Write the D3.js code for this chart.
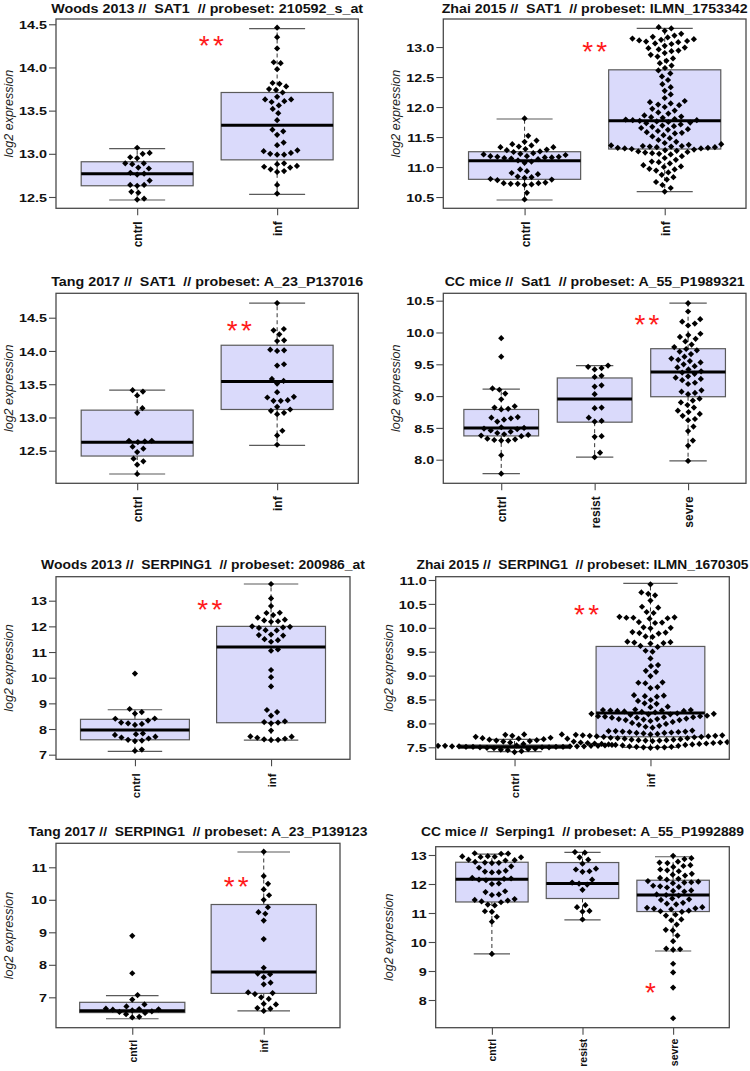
<!DOCTYPE html>
<html><head><meta charset="utf-8">
<script src="https://cdn.jsdelivr.net/npm/d3@7"></script>
<style>
body{margin:0;background:#fff;}
svg text{font-family:"Liberation Sans",Arial,sans-serif;white-space:pre;}
</style></head>
<body><svg id="c" width="750" height="1071"></svg>
<script>
// ---------------- DATA ----------------
const titles = [
  "Woods 2013 //  SAT1  // probeset: 210592_s_at",
  "Zhai 2015 //  SAT1  // probeset: ILMN_1753342",
  "Tang 2017 //  SAT1  // probeset: A_23_P137016",
  "CC mice //  Sat1  // probeset: A_55_P1989321",
  "Woods 2013 //  SERPING1  // probeset: 200986_at",
  "Zhai 2015 //  SERPING1  // probeset: ILMN_1670305",
  "Tang 2017 //  SERPING1  // probeset: A_23_P139123",
  "CC mice //  Serping1  // probeset: A_55_P1992889"
];
const groupsHuman = ["cntrl", "inf"];
const groupsMice = ["cntrl", "resist", "sevre"];
const yAxisLabel = "log2 expression";

// Panel 1: Woods 2013 SAT1
const woodsSat1Cntrl = [13.07,13.01,13.00,12.96,12.95,12.89,12.89,12.88,12.84,12.83,12.78,12.77,12.76,12.69,12.64,12.64,12.63,12.56,12.55,12.48,12.47];
const woodsSat1Inf = [14.46,14.35,14.22,14.06,14.05,13.98,13.82,13.81,13.78,13.75,13.74,13.71,13.66,13.63,13.63,13.61,13.60,13.56,13.52,13.47,13.39,13.28,13.26,13.22,13.13,13.10,13.04,13.03,13.01,13.00,12.99,12.99,12.89,12.88,12.86,12.85,12.84,12.82,12.80,12.79,12.64,12.54];
const woodsSat1Box = [[12.465,12.63,12.77,12.908,13.06],[12.53,12.93,13.33,13.71,14.45]];
const woodsSat1Domain = [12.369, 14.561];
const woodsSat1Ticks = [12.5,13.0,13.5,14.0,14.5];
const woodsSat1Star = {text:"**", x:1.53, y:14.33};

// Panel 2: Zhai 2015 SAT1
const zhaiSat1Cntrl = [11.81,11.52,11.44,11.42,11.38,11.36,11.34,11.33,11.33,11.30,11.29,11.28,11.26,11.25,11.23,11.22,11.21,11.20,11.18,11.18,11.17,11.17,11.16,11.16,11.15,11.14,11.13,11.11,11.09,11.07,10.96,10.93,10.90,10.88,10.84,10.83,10.82,10.80,10.79,10.78,10.74,10.73,10.73,10.72,10.72,10.71,10.70,10.57,10.46];
const zhaiSat1Inf = [13.33,13.31,13.27,13.22,13.19,13.17,13.16,13.14,13.13,13.12,13.11,13.10,13.09,13.08,13.06,13.05,13.02,12.99,12.98,12.96,12.94,12.93,12.90,12.87,12.84,12.81,12.77,12.73,12.69,12.65,12.61,12.56,12.51,12.45,12.38,12.33,12.27,12.21,12.15,12.10,12.08,12.06,12.04,12.03,12.00,11.97,11.94,11.91,11.89,11.86,11.84,11.83,11.82,11.80,11.79,11.78,11.78,11.77,11.76,11.75,11.74,11.73,11.71,11.69,11.68,11.67,11.65,11.63,11.62,11.60,11.58,11.57,11.56,11.53,11.51,11.48,11.45,11.42,11.40,11.38,11.37,11.36,11.35,11.35,11.34,11.34,11.33,11.33,11.32,11.32,11.31,11.31,11.30,11.29,11.28,11.27,11.26,11.25,11.24,11.23,11.22,11.21,11.18,11.15,11.12,11.09,11.08,11.06,11.03,11.01,11.00,10.97,10.96,10.94,10.91,10.87,10.83,10.79,10.75,10.70,10.65,10.59];
const zhaiSat1Box = [[10.45,10.795,11.105,11.255,11.80],[10.59,11.30,11.77,12.62,13.31]];
const zhaiSat1Domain = [10.312, 13.467];
const zhaiSat1Ticks = [10.5,11.0,11.5,12.0,12.5,13.0];
const zhaiSat1Star = {text:"**", x:1.50, y:13.03};

// Panel 3: Tang 2017 SAT1
const tangSat1Cntrl = [13.41,13.39,13.33,13.14,13.07,12.65,12.65,12.64,12.63,12.56,12.53,12.48,12.38,12.34,12.29,12.15];
const tangSat1Inf = [14.72,14.33,14.31,14.25,14.16,14.15,14.02,14.01,14.00,13.80,13.78,13.58,13.55,13.51,13.38,13.31,13.30,13.26,13.25,13.25,13.16,13.12,13.10,13.07,13.05,12.80,12.73,12.59];
const tangSat1Box = [[12.15,12.42,12.626,13.11,13.41],[12.58,13.12,13.54,14.086,14.72]];
const tangSat1Domain = [12.01, 14.867];
const tangSat1Ticks = [12.5,13.0,13.5,14.0,14.5];
const tangSat1Star = {text:"**", x:1.73, y:14.405};

// Panel 4: CC mice Sat1
const ccSat1Cntrl = [9.91,9.62,9.12,9.10,9.04,8.95,8.84,8.82,8.80,8.79,8.67,8.66,8.65,8.63,8.60,8.51,8.50,8.49,8.48,8.46,8.44,8.42,8.40,8.39,8.38,8.37,8.33,8.32,8.31,8.30,8.30,8.07,7.78];
const ccSat1Resist = [9.48,9.46,9.44,9.42,9.32,9.30,9.17,9.15,9.03,8.82,8.81,8.66,8.61,8.60,8.37,8.36,8.11,8.04];
const ccSat1Sevre = [10.46,10.33,10.21,10.17,10.14,10.11,9.98,9.96,9.93,9.90,9.86,9.81,9.77,9.74,9.72,9.70,9.66,9.62,9.59,9.57,9.55,9.53,9.50,9.47,9.45,9.42,9.39,9.37,9.35,9.31,9.29,9.27,9.25,9.21,9.19,9.09,9.07,9.05,9.03,8.96,8.93,8.90,8.86,8.82,8.77,8.75,8.72,8.69,8.64,8.62,8.52,8.45,8.30,8.22,7.98];
const ccSat1Box = [[7.78,8.374,8.50,8.79,9.11],[8.04,8.59,8.953,9.285,9.478],[7.98,8.99,9.379,9.745,10.46]];
const ccSat1Domain = [7.629, 10.616];
const ccSat1Ticks = [8.0,8.5,9.0,9.5,10.0,10.5];
const ccSat1Star = {text:"**", x:2.56, y:10.226};

// Panel 5: Woods 2013 SERPING1
const woodsSerCntrl = [10.16,8.78,8.66,8.60,8.41,8.40,8.33,8.25,8.22,8.20,8.16,7.83,7.80,7.77,7.70,7.67,7.63,7.58,7.55,7.53,7.20,7.15];
const woodsSerInf = [13.65,13.09,12.79,12.53,12.52,12.44,12.34,12.26,12.23,12.20,12.18,12.00,11.98,11.96,11.94,11.85,11.84,11.68,11.66,11.64,11.50,11.46,11.40,11.10,11.05,10.30,10.02,9.66,8.74,8.66,8.52,8.30,8.27,8.25,8.22,7.94,7.71,7.70,7.66,7.62,7.60,7.58,7.57];
const woodsSerBox = [[7.13,7.58,7.96,8.378,8.75],[7.57,8.245,11.20,12.00,13.65]];
const woodsSerDomain = [6.82, 13.935];
const woodsSerTicks = [7,8,9,10,11,12,13];
const woodsSerStar = {text:"**", x:1.55, y:12.92};

// Panel 6: Zhai 2015 SERPING1
const zhaiSerCntrl = [7.40,7.42,7.44,7.45,7.46,7.47,7.48,7.49,7.50,7.50,7.50,7.51,7.51,7.51,7.51,7.52,7.52,7.52,7.52,7.52,7.53,7.53,7.53,7.53,7.54,7.54,7.54,7.55,7.55,7.56,7.57,7.60,7.62,7.63,7.64,7.65,7.66,7.67,7.68,7.69,7.70,7.72,7.74,7.76,7.77];
const zhaiSerInf = [10.91,10.74,10.71,10.68,10.57,10.44,10.42,10.33,10.31,10.23,10.22,10.21,10.21,10.20,10.19,10.12,10.11,10.10,10.01,10.00,9.99,9.91,9.90,9.89,9.88,9.82,9.81,9.71,9.70,9.69,9.68,9.67,9.62,9.60,9.52,9.50,9.36,9.22,9.20,9.10,9.08,8.99,8.86,8.85,8.84,8.76,8.74,8.59,8.58,8.57,8.56,8.49,8.47,8.42,8.41,8.35,8.34,8.29,8.28,8.28,8.27,8.27,8.26,8.26,8.25,8.24,8.23,8.21,8.20,8.20,8.19,8.19,8.18,8.16,8.15,8.15,8.14,8.13,8.13,8.12,8.12,8.10,8.09,8.09,8.08,8.07,8.07,8.05,8.03,8.01,7.99,7.97,7.95,7.93,7.91,7.85,7.84,7.84,7.83,7.83,7.82,7.82,7.81,7.80,7.80,7.79,7.78,7.77,7.77,7.76,7.76,7.75,7.75,7.74,7.74,7.73,7.73,7.72,7.72,7.71,7.70,7.69,7.69,7.68,7.68,7.67,7.67,7.66,7.66,7.65,7.65,7.64,7.64,7.63,7.62,7.61,7.60,7.60,7.59,7.59,7.58,7.58,7.57,7.57,7.56,7.56,7.55,7.55,7.54,7.53,7.52,7.51,7.51,7.50,7.50,7.50,7.49];
const zhaiSerBox = [[7.41,7.48,7.51,7.548,7.667],[7.50,7.72,8.215,9.61,10.93]];
const zhaiSerDomain = [7.249, 11.069];
const zhaiSerTicks = [7.5,8.0,8.5,9.0,9.5,10.0,10.5,11.0];
const zhaiSerStar = {text:"**", x:1.53, y:10.416};

// Panel 7: Tang 2017 SERPING1
const tangSerCntrl = [8.89,7.74,7.07,6.93,6.78,6.72,6.65,6.64,6.63,6.62,6.60,6.57,6.55,6.52,6.48,6.40,6.38];
const tangSerInf = [11.48,10.73,10.49,10.32,10.14,10.00,9.77,9.62,9.57,9.36,8.79,7.91,7.73,7.71,7.62,7.45,7.40,7.15,7.13,7.10,7.00,6.95,6.80,6.78,6.67,6.65,6.58];
const tangSerBox = [[6.34,6.53,6.59,6.846,7.05],[6.58,7.12,7.78,9.855,11.47]];
const tangSerDomain = [6.065, 11.738];
const tangSerTicks = [7,8,9,10,11];
const tangSerStar = {text:"**", x:1.79, y:10.61};

// Panel 8: CC mice Serping1
const ccSerCntrl = [13.06,13.05,13.04,12.96,12.95,12.94,12.93,12.92,12.84,12.82,12.81,12.76,12.74,12.73,12.72,12.61,12.56,12.46,12.43,12.41,12.40,12.21,12.19,12.18,12.15,12.13,12.02,12.00,11.75,11.72,11.64,11.62,11.48,11.45,11.43,11.40,11.37,11.29,11.26,11.06,11.04,10.87,10.70,9.59];
const ccSerResist = [13.10,13.08,12.92,12.84,12.70,12.53,12.50,12.44,12.42,12.15,12.05,12.01,11.98,11.80,11.27,11.20,11.07,11.05,10.78];
const ccSerSevre = [12.97,12.89,12.86,12.77,12.74,12.72,12.65,12.62,12.59,12.50,12.47,12.44,12.35,12.32,12.29,12.21,12.18,12.15,12.10,12.08,12.06,12.05,12.03,11.94,11.92,11.90,11.88,11.78,11.76,11.74,11.64,11.62,11.60,11.50,11.47,11.45,11.35,11.32,11.30,11.20,11.18,11.16,11.15,11.13,11.08,11.06,11.04,10.94,10.91,10.78,10.75,10.60,10.42,10.40,10.22,10.03,9.77,9.75,9.73,9.25,8.95,8.43,7.37];
const ccSerBox = [[9.59,11.38,12.16,12.75,13.03],[10.76,11.50,12.02,12.74,13.09],[9.69,11.05,11.62,12.13,12.94]];
const ccSerDomain = [7.045, 13.286];
const ccSerTicks = [8,9,10,11,12,13];
const ccSerStar = {text:"*", x:2.75, y:8.49};

// ---------------- LAYOUT (positions, not data) ----------------
const layout = [
  {l:56,    t:19,    r:358.3, b:208.3, titleY:12.5,  titleW:312, fmt:".1f", xlabFs:12,   xlabGap:13},
  {l:443.3, t:19,    r:746,   b:208.3, titleY:12.5,  titleW:306, fmt:".1f", xlabFs:12,   xlabGap:13},
  {l:56,    t:293.3, r:358.3, b:483.3, titleY:285.5, titleW:312, fmt:".1f", xlabFs:12,   xlabGap:13},
  {l:443.3, t:293.3, r:746,   b:483.3, titleY:285.5, titleW:300, fmt:".1f", xlabFs:12,   xlabGap:13},
  {l:56,    t:576.7, r:350,   b:759.3, titleY:568.5, titleW:324, fmt:"d",   xlabFs:11.5, xlabGap:14},
  {l:435.7, t:576.7, r:729.3, b:759.3, titleY:568.5, titleW:332, fmt:".1f", xlabFs:11.5, xlabGap:14},
  {l:56,    t:843.3, r:340,   b:1027.7,titleY:835.5, titleW:339, fmt:"d",   xlabFs:10.5, xlabGap:12},
  {l:435.7, t:846.7, r:729.3, b:1027.7,titleY:835.5, titleW:323, fmt:"d",   xlabFs:10.5, xlabGap:11}
];

const panels = [
  {groups:groupsHuman, values:[woodsSat1Cntrl,woodsSat1Inf], boxes:woodsSat1Box, domain:woodsSat1Domain, ticks:woodsSat1Ticks, star:woodsSat1Star},
  {groups:groupsHuman, values:[zhaiSat1Cntrl,zhaiSat1Inf], boxes:zhaiSat1Box, domain:zhaiSat1Domain, ticks:zhaiSat1Ticks, star:zhaiSat1Star},
  {groups:groupsHuman, values:[tangSat1Cntrl,tangSat1Inf], boxes:tangSat1Box, domain:tangSat1Domain, ticks:tangSat1Ticks, star:tangSat1Star},
  {groups:groupsMice, values:[ccSat1Cntrl,ccSat1Resist,ccSat1Sevre], boxes:ccSat1Box, domain:ccSat1Domain, ticks:ccSat1Ticks, star:ccSat1Star},
  {groups:groupsHuman, values:[woodsSerCntrl,woodsSerInf], boxes:woodsSerBox, domain:woodsSerDomain, ticks:woodsSerTicks, star:woodsSerStar},
  {groups:groupsHuman, values:[zhaiSerCntrl,zhaiSerInf], boxes:zhaiSerBox, domain:zhaiSerDomain, ticks:zhaiSerTicks, star:zhaiSerStar},
  {groups:groupsHuman, values:[tangSerCntrl,tangSerInf], boxes:tangSerBox, domain:tangSerDomain, ticks:tangSerTicks, star:tangSerStar},
  {groups:groupsMice, values:[ccSerCntrl,ccSerResist,ccSerSevre], boxes:ccSerBox, domain:ccSerDomain, ticks:ccSerTicks, star:ccSerStar}
];

// ---------------- STYLE ----------------
const BOX_FILL = "#dadafb", BOX_STROKE = "#5a5a5a", FRAME = "#4a4a4a";
const DX = 7, DY = 7, DOT_R = 3.1;

// beeswarm "swarm" placement (ascending priority)
function swarm(pys, dx, dy) {
  const idx = pys.map((p, i) => i).sort((a, b) => pys[b] - pys[a]);
  const placed = [], off = new Array(pys.length).fill(0);
  for (const i of idx) {
    const v = -pys[i] / dy;
    const pre = placed.filter(p => v - p.v < 1);
    let best = 0;
    if (pre.length) {
      pre.sort((a, b) => Math.abs(a.o) - Math.abs(b.o));
      const c = [0];
      pre.forEach(p => c.push(p.o + Math.sqrt(Math.max(0, 1 - (v - p.v) ** 2))));
      pre.forEach(p => c.push(p.o - Math.sqrt(Math.max(0, 1 - (v - p.v) ** 2))));
      let bestAbs = Infinity;
      for (const cc of c) {
        const bad = pre.some(p => (v - p.v) ** 2 + (cc - p.o) ** 2 < 0.999);
        if (!bad && Math.abs(cc) < bestAbs) { bestAbs = Math.abs(cc); best = cc; }
      }
    }
    placed.push({v, o: best});
    off[i] = best * dx;
  }
  return off;
}

const svg = d3.select("#c");
const diamond = (r) => `M0,${-r}L${r},0L0,${r}L${-r},0Z`;

panels.forEach((p, pi) => {
  const L = layout[pi];
  const n = p.groups.length;
  const x = d3.scaleLinear().domain([0.5 - 0.04 * n, n + 0.5 + 0.04 * n]).range([L.l, L.r]);
  const y = d3.scaleLinear().domain(p.domain).range([L.b, L.t]);
  const g = svg.append("g");
  const clipId = "clip" + pi;
  g.append("clipPath").attr("id", clipId).append("rect")
    .attr("x", L.l).attr("y", L.t).attr("width", L.r - L.l).attr("height", L.b - L.t);

  // boxes
  p.boxes.forEach((bx, gi) => {
    const cx = x(gi + 1);
    const [lo, q1, med, q3, hi] = bx;
    g.append("line").attr("x1", cx).attr("x2", cx).attr("y1", y(q3)).attr("y2", y(hi))
      .attr("stroke", "#333").attr("stroke-dasharray", "4,3").attr("stroke-width", 1);
    g.append("line").attr("x1", cx).attr("x2", cx).attr("y1", y(q1)).attr("y2", y(lo))
      .attr("stroke", "#333").attr("stroke-dasharray", "4,3").attr("stroke-width", 1);
    [lo, hi].forEach(v => g.append("line")
      .attr("x1", x(gi + 1 - 0.2)).attr("x2", x(gi + 1 + 0.2)).attr("y1", y(v)).attr("y2", y(v))
      .attr("stroke", BOX_STROKE).attr("stroke-width", 1.2));
    g.append("rect").attr("x", x(gi + 1 - 0.4)).attr("width", x(gi + 1 + 0.4) - x(gi + 1 - 0.4))
      .attr("y", y(q3)).attr("height", Math.max(1, y(q1) - y(q3)))
      .attr("fill", BOX_FILL).attr("stroke", BOX_STROKE).attr("stroke-width", 1.2);
    g.append("line").attr("x1", x(gi + 1 - 0.4)).attr("x2", x(gi + 1 + 0.4)).attr("y1", y(med)).attr("y2", y(med))
      .attr("stroke", "#000").attr("stroke-width", 3);
  });

  // beeswarm points
  const dots = g.append("g").attr("clip-path", `url(#${clipId})`);
  p.values.forEach((vals, gi) => {
    const pys = vals.map(v => y(v));
    const offs = swarm(pys, DX, DY);
    dots.selectAll(null).data(vals).join("path")
      .attr("d", diamond(DOT_R))
      .attr("transform", (v, i) => `translate(${x(gi + 1) + offs[i]},${pys[i]})`)
      .attr("fill", "#000");
  });

  // frame
  g.append("rect").attr("x", L.l).attr("y", L.t).attr("width", L.r - L.l).attr("height", L.b - L.t)
    .attr("fill", "none").attr("stroke", FRAME).attr("stroke-width", 1.3);

  // y axis
  const ya = g.append("g").attr("transform", `translate(${L.l},0)`)
    .call(d3.axisLeft(y).tickValues(p.ticks).tickSize(7).tickFormat(d3.format(L.fmt)));
  ya.select(".domain").remove();
  ya.selectAll("line").attr("stroke", FRAME).attr("stroke-width", 1.1);
  ya.selectAll("text").attr("x", 0).attr("dy", "0.36em")
    .attr("transform", "translate(-9,0) scale(1.25,1)")
    .attr("font-size", 11.5).attr("font-weight", "bold").attr("fill", "#111")
    .attr("font-family", "'Liberation Sans', Arial, sans-serif");

  // x axis
  const xa = g.append("g").attr("transform", `translate(0,${L.b})`)
    .call(d3.axisBottom(x).tickValues(d3.range(1, n + 1)).tickSize(7).tickFormat(i => p.groups[i - 1]));
  xa.select(".domain").remove();
  xa.selectAll("line").attr("stroke", FRAME).attr("stroke-width", 1.1);
  xa.selectAll("text").attr("y", 0).attr("dy", 0)
    .attr("transform", `translate(${L.xlabFs * 0.37},${L.xlabGap}) rotate(-90)`)
    .attr("text-anchor", "end").attr("font-size", L.xlabFs).attr("font-weight", "bold").attr("fill", "#111")
    .attr("font-family", "'Liberation Sans', Arial, sans-serif");

  // title
  svg.append("text").attr("x", (L.l + L.r) / 2).attr("y", L.titleY)
    .attr("text-anchor", "middle").attr("font-size", 13).attr("font-weight", "bold").attr("fill", "#111")
    .attr("textLength", L.titleW).attr("lengthAdjust", "spacingAndGlyphs")
    .text(titles[pi]);

  // y label
  svg.append("text").attr("transform", `translate(${L.l - 43},${(L.t + L.b) / 2}) rotate(-90)`)
    .attr("text-anchor", "middle").attr("font-size", 12.5).attr("font-style", "italic").attr("fill", "#222")
    .text(yAxisLabel);

  // significance stars
  const st = svg.append("text").attr("x", x(p.star.x)).attr("y", y(p.star.y) + 16)
    .attr("text-anchor", "middle").attr("font-size", 28).attr("fill", "#ff1a1a")
    .text(p.star.text);
  if (p.star.text.length === 2) st.attr("textLength", 25).attr("lengthAdjust", "spacing");
});
</script></body></html>
